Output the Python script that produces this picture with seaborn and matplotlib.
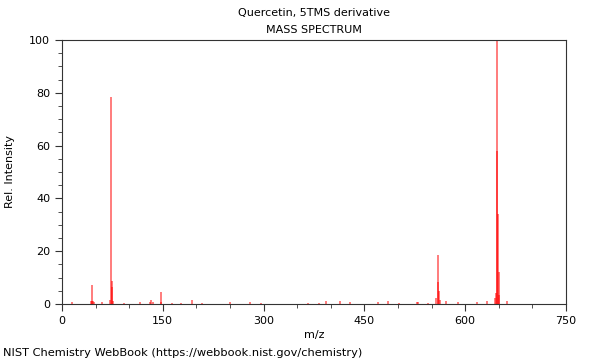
import numpy as np
import pandas as pd
import matplotlib
matplotlib.use("Agg")
import matplotlib.pyplot as plt
from matplotlib.ticker import MultipleLocator
import seaborn as sns

# peak list (m/z, relative intensity)
mz = [15, 43, 44, 45, 46, 47, 59, 72, 73, 74, 75, 76, 92, 116, 131, 133, 135,
      147, 148, 163, 177, 193, 208, 250, 280, 296, 366, 383, 393, 414, 428,
      470, 485, 502, 528, 530, 545, 557, 559, 560, 561, 562, 572, 590, 617,
      632, 645, 646, 647, 648, 649, 650, 651, 662]
intensity = [0.6, 1.0, 1.2, 7.2, 1.0, 0.6, 0.7, 1.5, 78.5, 6.3, 8.8, 1.2, 0.5,
             0.6, 0.8, 1.6, 0.6, 4.4, 0.8, 0.5, 0.5, 1.5, 0.5, 0.7, 0.6, 0.5,
             0.3, 0.4, 1.0, 1.3, 0.6, 0.8, 1.2, 0.5, 0.6, 0.6, 0.5, 2.3, 18.5,
             8.2, 5.0, 1.5, 1.2, 0.8, 0.7, 1.2, 2.3, 4.0, 100.0, 58.0, 34.0,
             12.0, 3.5, 1.0]

df = pd.DataFrame({"mz": mz, "intensity": intensity})

sns.set_style("ticks", {"text.color": "black", "axes.labelcolor": "black",
                        "xtick.color": "black", "ytick.color": "black"})
plt.rcParams["font.family"] = ["DejaVu Sans"]

fig = plt.figure(figsize=(6, 3.6), dpi=100)
ax = fig.add_axes([62 / 600, 56 / 360, 504 / 600, 264 / 360])

ax.vlines(df["mz"], 0, df["intensity"], color="red", linewidth=1.2, alpha=0.6)

ax.set_xlim(0, 750)
ax.set_ylim(0, 100)
ax.xaxis.set_major_locator(MultipleLocator(150))
ax.xaxis.set_minor_locator(MultipleLocator(50))
ax.yaxis.set_major_locator(MultipleLocator(20))
ax.yaxis.set_minor_locator(MultipleLocator(5))
ax.tick_params(which="major", length=5, width=0.8, labelsize=8, color="#333333")
ax.tick_params(which="minor", length=3, width=0.6, color="#333333")
for s in ax.spines.values():
    s.set_color("#333333")
    s.set_linewidth(0.8)

ax.set_xlabel("m/z", fontsize=8, labelpad=3)
ax.set_ylabel("Rel. Intensity", fontsize=8, labelpad=10)

fig.text(314 / 600, 1 - 13 / 360, "Quercetin, 5TMS derivative", ha="center", va="center", fontsize=8)
fig.text(314 / 600, 1 - 30 / 360, "MASS SPECTRUM", ha="center", va="center", fontsize=8)
fig.text(3 / 600, 1 - 353 / 360, "NIST Chemistry WebBook (https://webbook.nist.gov/chemistry)",
         ha="left", va="center", fontsize=8.2)

fig.savefig("out.png", dpi=100)
